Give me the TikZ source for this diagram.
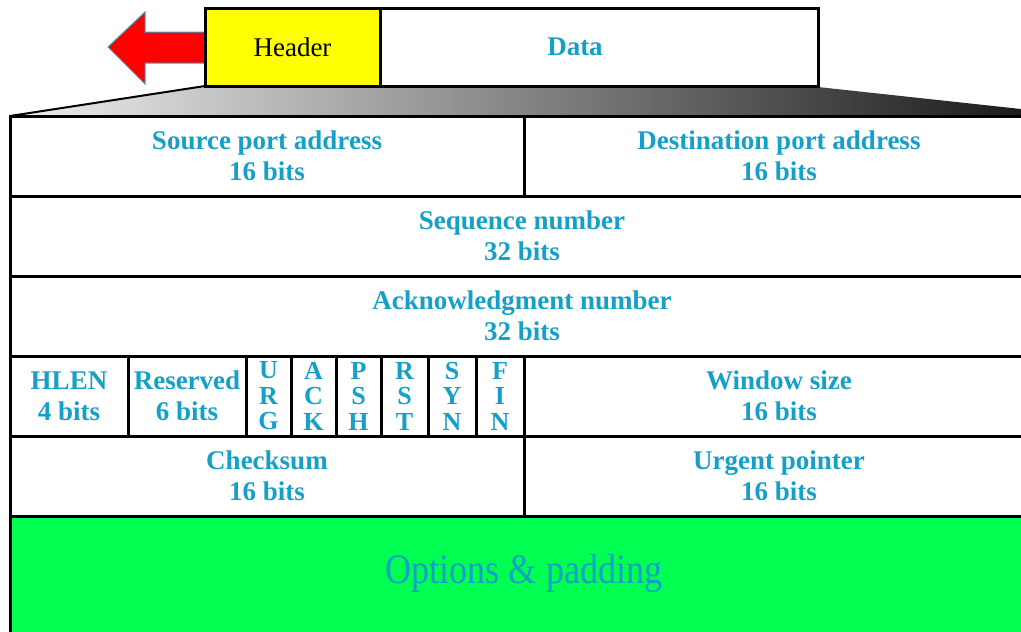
\documentclass[tikz,border=0pt]{standalone}
\usepackage{fontspec}
\setmainfont{Liberation Serif}
\usetikzlibrary{shadings}
\definecolor{tcp}{RGB}{20,160,200}
\definecolor{optgreen}{RGB}{0,255,80}
\definecolor{hdryellow}{RGB}{255,255,0}
\definecolor{arrowred}{RGB}{255,0,0}
\definecolor{arrowedge}{RGB}{40,170,210}
\begin{document}
\begin{tikzpicture}[x=1pt,y=-1pt,
  cell/.style={draw=black,line width=3pt,anchor=north west,inner sep=0pt,outer sep=0pt,
    align=center,text=tcp,font=\fontsize{27}{31}\selectfont\bfseries},
  flag/.style={cell,minimum height=80pt,font=\fontsize{26}{25.5}\selectfont\bfseries},
  topbox/.style={draw=black,line width=3pt,anchor=north west,inner sep=0pt,outer sep=0pt,
    minimum height=78pt,font=\fontsize{27}{31}\selectfont},
  optext/.style={text=tcp,font=\fontsize{42}{48}\selectfont,xscale=0.86}
]
\useasboundingbox (0,0) rectangle (1021,632);
% gradient wedge
\shade[left color=black!6,right color=black!90]
  (205,86) -- (818,87) -- (1030,110) -- (1030,116) -- (10,116) -- cycle;
\coordinate (wedgeL) at (10,116);
% red arrow
\draw[fill=arrowred,draw=arrowedge,line width=1pt]
  (108,47) -- (145,12) -- (145,32) -- (207,32) -- (207,63) -- (145,63) -- (145,84) -- cycle;
% header / data
\node[topbox,fill=hdryellow,minimum width=175pt] (hdr) at (205,8) {Header};
\node[topbox,fill=white,minimum width=438pt,text=tcp,font=\fontsize{27}{31}\selectfont\bfseries] (data) at (380,8) {\hspace*{-48pt}Data};
\draw[line width=2pt] (hdr.south west) -- (wedgeL);
% rows
\node[cell,minimum width=514pt,minimum height=80pt] (src) at (10,116) {Source port address\\16 bits};
\node[cell,minimum width=510pt,minimum height=80pt] (dst) at (524,116) {Destination port address\\16 bits};
\node[cell,minimum width=1024pt,minimum height=80pt] (seq) at (10,196) {Sequence number\\32 bits};
\node[cell,minimum width=1024pt,minimum height=80pt] (ack) at (10,276) {Acknowledgment number\\32 bits};
\node[cell,minimum width=118pt,minimum height=80pt] (hlen) at (10,356) {HLEN\\4 bits};
\node[cell,minimum width=118pt,minimum height=80pt] (res) at (128,356) {Reserved\\6 bits};
\node[flag,minimum width=45pt] (urg) at (246,356) {U\\R\\G};
\node[flag,minimum width=45pt] (ackf) at (291,356) {A\\C\\K};
\node[flag,minimum width=45pt] (psh) at (336,356) {P\\S\\H};
\node[flag,minimum width=47pt] (rst) at (381,356) {R\\S\\T};
\node[flag,minimum width=48pt] (syn) at (428,356) {S\\Y\\N};
\node[flag,minimum width=48pt] (fin) at (476,356) {F\\I\\N};
\node[cell,minimum width=510pt,minimum height=80pt] (win) at (524,356) {Window size\\16 bits};
\node[cell,minimum width=514pt,minimum height=80pt] (chk) at (10,436) {Checksum\\16 bits};
\node[cell,minimum width=510pt,minimum height=80pt] (urgp) at (524,436) {Urgent pointer\\16 bits};
\node[cell,fill=optgreen,minimum width=1024pt,minimum height=130pt] (opt) at (10,516) {};
\node[optext] (optl) at (524,573) {Options \& padding};
\end{tikzpicture}
\end{document}
